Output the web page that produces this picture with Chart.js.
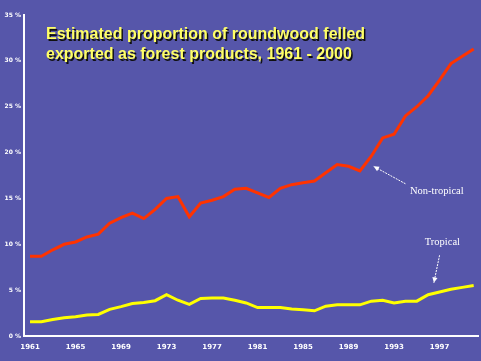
<!DOCTYPE html>
<html>
<head>
<meta charset="utf-8">
<script src="https://cdn.jsdelivr.net/npm/chart.js@4/dist/chart.umd.min.js"></script>
<style>
  html, body { margin: 0; padding: 0; background: #5656aa; }
  #wrap { width: 481px; height: 361px; position: relative; }
</style>
</head>
<body>
<div id="wrap"><canvas id="demoChart"></canvas></div>
<script>
const years = [];
for (var i = 1961; i <= 2000; i++) years.push(i);

const nonTropical = [8.7, 8.7, 9.4, 10.0, 10.25, 10.8, 11.1, 12.3, 12.9, 13.4,
    12.8, 13.8, 15.0, 15.2, 13.0, 14.5, 14.8, 15.2, 16.0, 16.1,
    15.6, 15.1, 16.1, 16.5, 16.7, 16.9, 17.8, 18.7, 18.5, 18.0,
    19.6, 21.6, 22.0, 24.0, 25.0, 26.2, 27.9, 29.7, 30.5, 31.3];

const tropical = [1.56, 1.56, 1.8, 2.0, 2.1, 2.3, 2.35, 2.9, 3.2, 3.55,
    3.65, 3.85, 4.5, 3.9, 3.45, 4.1, 4.15, 4.15, 3.9, 3.6,
    3.1, 3.1, 3.1, 2.95, 2.85, 2.75, 3.25, 3.4, 3.4, 3.4,
    3.8, 3.9, 3.6, 3.8, 3.8, 4.5, 4.8, 5.1, 5.3, 5.5];

const xTickYears = [1961, 1965, 1969, 1973, 1977, 1981, 1985, 1989, 1993, 1997];
const yTickValues = [0, 5, 10, 15, 20, 25, 30, 35];

const titleLines = ["Estimated proportion of roundwood felled", "exported as forest products, 1961 - 2000"];

// label text, label anchor (year, %), arrow tail, arrow tip
const notes = [
    {text: "Non-tropical", at: [1994.4, 15.8], from: [1994.0, 16.6], to: [1991.2, 18.5]},
    {text: "Tropical", at: [1995.7, 10.2], from: [1997.0, 8.8], to: [1996.5, 5.8]}
];

function toPoints(values) {
    return values.map((v, i) => ({x: years[i], y: v}));
}

const decorPlugin = {
    id: "decor",
    beforeDraw(chart) {
        const ctx = chart.ctx;
        ctx.save();
        ctx.fillStyle = "#5656aa";
        ctx.fillRect(0, 0, chart.width, chart.height);
        ctx.restore();
    },
    afterDraw(chart) {
        const ctx = chart.ctx;
        const xs = chart.scales.x, ys = chart.scales.y;
        ctx.save();
        // title with dark drop shadow
        ctx.font = "bold 16px 'Liberation Sans', Arial, sans-serif";
        ctx.textBaseline = "alphabetic";
        titleLines.forEach((line, i) => {
            const y = 39 + i * 20;
            ctx.fillStyle = "#101010";
            ctx.fillText(line, 47.5, y + 1.5);
            ctx.fillStyle = "#ffff66";
            ctx.fillText(line, 46, y);
        });
        // annotations
        ctx.font = "10.5px 'Liberation Serif', 'Times New Roman', serif";
        ctx.fillStyle = "#ffffff";
        ctx.strokeStyle = "#ffffff";
        ctx.lineWidth = 1;
        ctx.textBaseline = "middle";
        notes.forEach(n => {
            ctx.fillText(n.text, xs.getPixelForValue(n.at[0]), ys.getPixelForValue(n.at[1]));
            const x1 = xs.getPixelForValue(n.from[0]), y1 = ys.getPixelForValue(n.from[1]);
            const x2 = xs.getPixelForValue(n.to[0]), y2 = ys.getPixelForValue(n.to[1]);
            ctx.setLineDash([2, 1]);
            ctx.beginPath();
            ctx.moveTo(x1, y1);
            ctx.lineTo(x2, y2);
            ctx.stroke();
            ctx.setLineDash([]);
            const a = Math.atan2(y2 - y1, x2 - x1);
            ctx.beginPath();
            ctx.moveTo(x2, y2);
            ctx.lineTo(x2 - 6 * Math.cos(a - 0.45), y2 - 6 * Math.sin(a - 0.45));
            ctx.lineTo(x2 - 6 * Math.cos(a + 0.45), y2 - 6 * Math.sin(a + 0.45));
            ctx.closePath();
            ctx.fill();
        });
        ctx.restore();
    }
};

new Chart("demoChart", {
    type: "line",
    data: {
        datasets: [{
            label: "Non-tropical",
            data: toPoints(nonTropical),
            borderColor: "#ff3300",
            borderWidth: 3,
            pointRadius: 0,
            tension: 0,
            fill: false
        }, {
            label: "Tropical",
            data: toPoints(tropical),
            borderColor: "#ffff00",
            borderWidth: 3,
            pointRadius: 0,
            tension: 0,
            fill: false
        }]
    },
    options: {
        responsive: true,
        maintainAspectRatio: false,
        animation: false,
        layout: {padding: {top: 15, right: 3, left: 0, bottom: 0}},
        plugins: {
            legend: {display: false},
            tooltip: {enabled: false},
            title: {display: false}
        },
        scales: {
            x: {
                type: "linear",
                min: 1960.47,
                max: 2000.38,
                grid: {display: false, drawTicks: false},
                border: {display: true, color: "#ffffff", width: 2},
                afterBuildTicks: s => { s.ticks = xTickYears.map(v => ({value: v})); },
                afterFit: s => { s.height = 25; },
                ticks: {
                    color: "#ffffff",
                    padding: 7,
                    maxRotation: 0,
                    autoSkip: false,
                    font: {family: "'DejaVu Sans', sans-serif", size: 7, weight: "bold"},
                    callback: v => String(v)
                }
            },
            y: {
                type: "linear",
                min: 0,
                max: 35,
                grid: {display: false, drawTicks: false},
                border: {display: true, color: "#ffffff", width: 2},
                afterBuildTicks: s => { s.ticks = yTickValues.map(v => ({value: v})); },
                afterFit: s => { s.width = 24; },
                ticks: {
                    color: "#ffffff",
                    padding: 3,
                    autoSkip: false,
                    font: {family: "'DejaVu Sans', sans-serif", size: 6, weight: "bold"},
                    callback: v => v + " %"
                }
            }
        }
    },
    plugins: [decorPlugin]
});
</script>
</body>
</html>
